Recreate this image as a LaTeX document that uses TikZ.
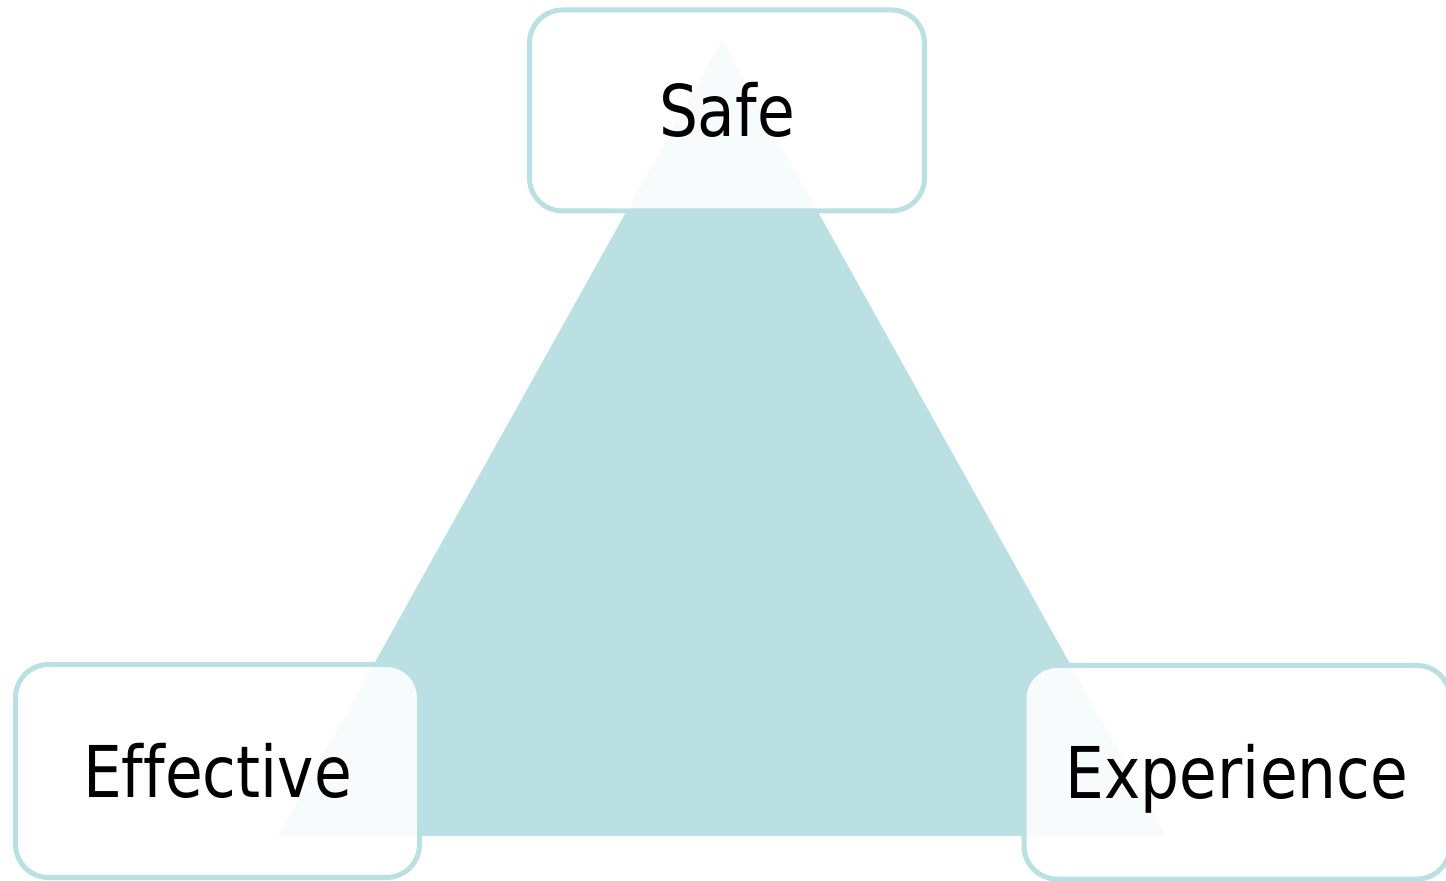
\documentclass[tikz,border=0pt]{standalone}
\usepackage{fontspec}
\setmainfont{DejaVu Sans}[FakeStretch=0.86, Ligatures=CommonOff]
\definecolor{tealpale}{RGB}{186,224,227}
\begin{document}
\begin{tikzpicture}[x=0.5pt, y=-0.5pt,
    cornerbox/.style={draw=tealpale, line width=2.5pt, rounded corners=16.5pt,
      fill=white, fill opacity=0.9, text opacity=1, inner sep=0pt,
      text height=26pt, text depth=0pt, font=\fontsize{35.7}{40}\selectfont}]
    \useasboundingbox (0,0) rectangle (1446,881);

    % the triangle behind the three boxes
    \coordinate (top) at (722,40);
    \coordinate (left) at (278,836);
    \coordinate (right) at (1166,836);
    \fill[tealpale] (top) -- (left) -- (right) -- cycle;

    % one box on each corner
    \node[cornerbox, minimum width=197.5pt, minimum height=100.5pt] (safe) at (727,110.5) {Safe};
    \node[cornerbox, minimum width=202pt, minimum height=106.5pt] (effective) at (217.5,771) {Effective};
    \node[cornerbox, minimum width=213pt, minimum height=106.75pt] (experience) at (1237,772.25) {Experience};

\end{tikzpicture}
\end{document}
